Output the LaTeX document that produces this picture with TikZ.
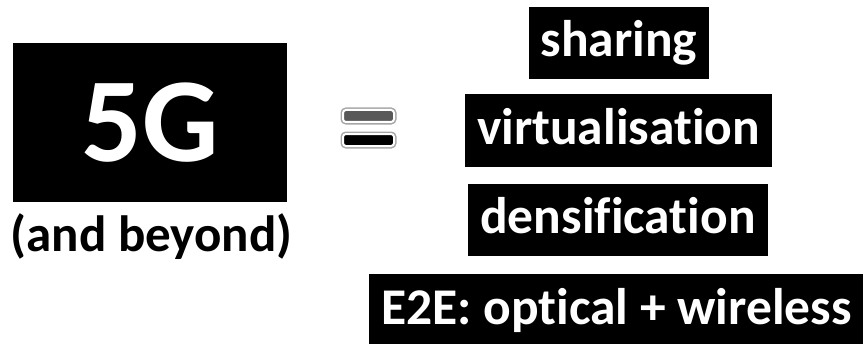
\documentclass[tikz,border=0pt]{standalone}
\usepackage{fontspec}
\setmainfont{Carlito}[Ligatures={NoCommon,NoContextual}]
\usetikzlibrary{positioning}
\tikzset{
  blackbox/.style={fill=black, text=white, font=\bfseries\fontsize{51.5}{51.5}\selectfont,
    inner xsep=12pt, inner ysep=0pt, text height=50pt, text depth=22pt},
  eqbar/.style={draw=white, line width=2pt, rounded corners=3pt,
    minimum width=51pt, minimum height=12pt, inner sep=0pt,
    preaction={draw=black!35, line width=5pt}}}

\begin{document}
\begin{tikzpicture}[x=1pt, y=-1pt]
      \useasboundingbox (0,0) rectangle (863,345);
      \node[fill=black, text=white, minimum width=274pt, minimum height=159pt,
            font=\bfseries\fontsize{120}{120}\selectfont] (g5) at (150,122.5) {5G};
      \node[font=\bfseries\fontsize{51}{51}\selectfont, inner sep=0pt] (beyond) at (151.5,237) {(and beyond)};
      \node[eqbar, fill=black!65] (eq_1) at (368.5,116) {};
      \node[eqbar, fill=black]    (eq_2) at (368.5,140) {};
      \node[blackbox] (b_1) at (619,43)    {sharing};
      \node[blackbox] (b_2) at (618.5,130.5) {virtualisation};
      \node[blackbox] (b_3) at (618,219.5) {densification};
      \node[blackbox, text depth=20pt] (b_4) at (616.5,309) {E2E: optical + wireless};
    \end{tikzpicture}
\end{document}
